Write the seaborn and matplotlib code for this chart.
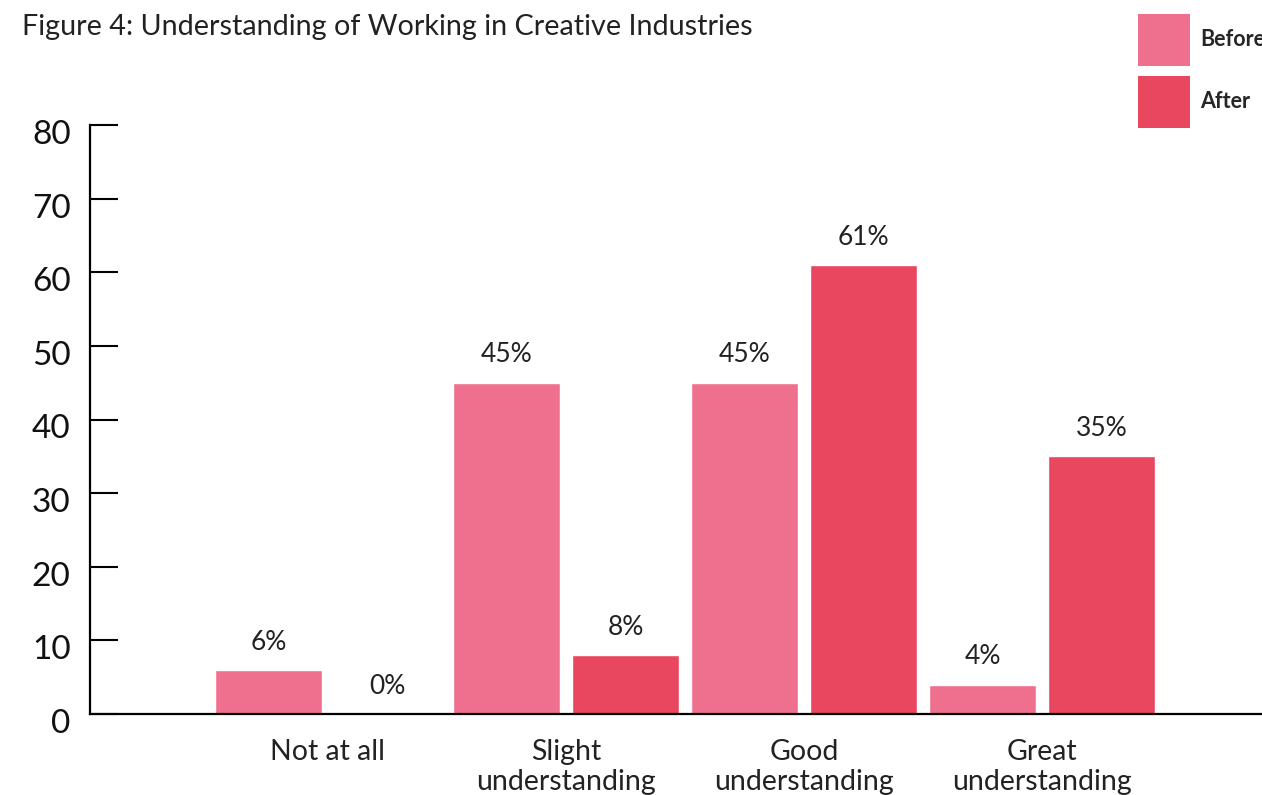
import numpy as np
import pandas as pd
import matplotlib
matplotlib.use("Agg")
import matplotlib.pyplot as plt
from matplotlib.patches import Patch
from matplotlib.legend_handler import HandlerPatch
from matplotlib.transforms import ScaledTranslation
import seaborn as sns

# --- Data ---
categories = ["Not at all", "Slight\nunderstanding", "Good\nunderstanding", "Great\nunderstanding"]
periods = ["Before", "After"]
before_pct = [6, 45, 45, 4]
after_pct = [0, 8, 61, 35]
y_ticks = [0, 10, 20, 30, 40, 50, 60, 70, 80]
title = "Figure 4: Understanding of Working in Creative Industries"

colours = ["#EE708E", "#E8475F"]

df = pd.DataFrame({
    "category": categories * 2,
    "period": ["Before"] * len(categories) + ["After"] * len(categories),
    "value": before_pct + after_pct,
})

sns.set_theme(style="white")
plt.rcParams["font.family"] = ["Lato", "DejaVu Sans"]

W, H = 1262, 795
fig = plt.figure(figsize=(W / 100, H / 100), dpi=100)
# axes runs past the right edge, like the cropped original
ax = fig.add_axes([90 / W, 81 / H, 1190 / W, 589 / H])

sns.barplot(data=df, x="category", y="value", hue="period",
            order=categories, hue_order=periods, palette=colours,
            saturation=1, width=1.0, gap=0.1, errorbar=None, legend=False, ax=ax)

for cont in ax.containers:
    ax.bar_label(cont, labels=[f"{v:.0f}%" for v in cont.datavalues],
                 padding=11, fontsize=19, color="#222222")

ax.set_xlim(-1, 4)
ax.set_ylim(0, 80)
ax.set_yticks(y_ticks)
ax.set_xlabel("")
ax.set_ylabel("")

ax.tick_params(axis="y", direction="in", length=20, width=1.5, color="black",
               labelsize=24, pad=14, left=True, labelcolor="#111111")
ax.tick_params(axis="x", length=0, labelsize=20.5, pad=18, labelcolor="#222222")
for lab in ax.get_xticklabels():
    lab.set_linespacing(1.2)
# numbers sit a little below their ticks in the original
shift = ScaledTranslation(0, -5 / 72, fig.dpi_scale_trans)
for lab in ax.get_yticklabels():
    lab.set_transform(lab.get_transform() + shift)

sns.despine(ax=ax)
for side in ["left", "bottom"]:
    ax.spines[side].set_color("black")
    ax.spines[side].set_linewidth(1.6)

# legend squares ~52px, text cut by the right edge as in the original
handles = [Patch(facecolor=c, edgecolor="none", label=p) for c, p in zip(colours, periods)]
fig.legend(handles=handles, loc="upper left", bbox_to_anchor=(1138 / W, 1 - 14 / H),
           frameon=False, handlelength=2.42, handleheight=3.34,
           labelspacing=0.465, handletextpad=0.45, borderpad=0, borderaxespad=0,
           prop={"weight": "bold", "size": 15.5},
           handler_map={Patch: HandlerPatch(ypad=0)})

fig.text(22 / W, 1 - 27 / H, title, fontsize=20.7, color="#222222", va="center")

fig.savefig("out.png", dpi=100)
